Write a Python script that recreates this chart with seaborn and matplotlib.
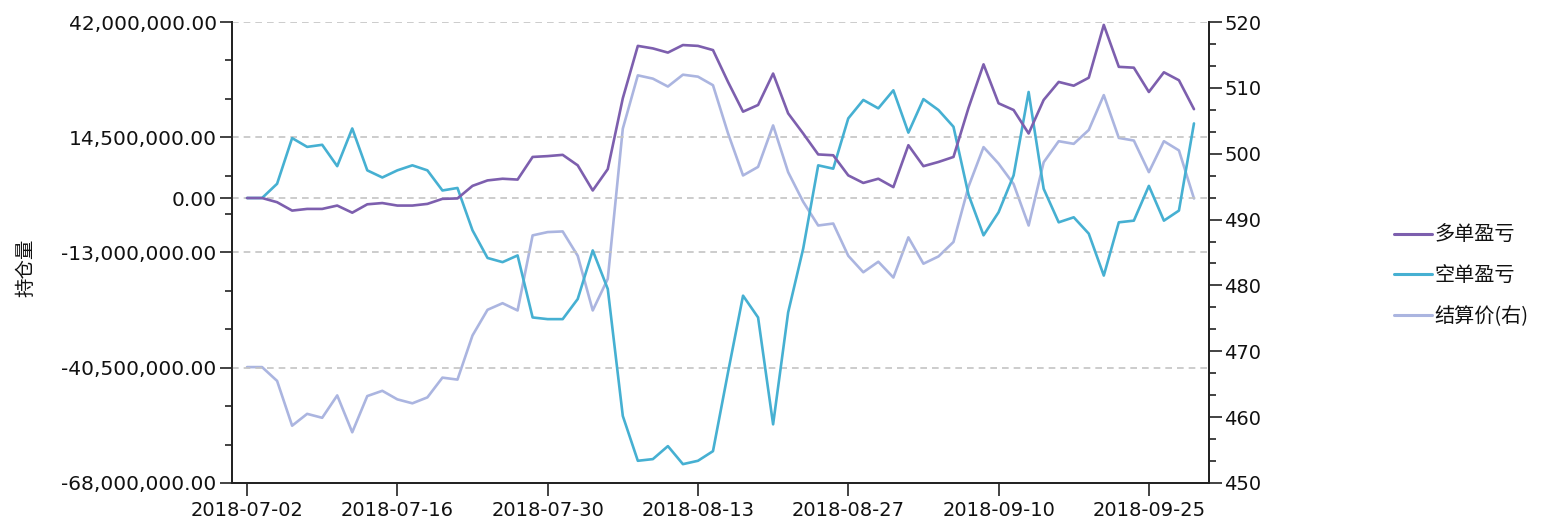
import matplotlib
matplotlib.use("Agg")
import matplotlib.pyplot as plt
import matplotlib.ticker as mticker
from matplotlib.lines import Line2D
import numpy as np
import pandas as pd
import seaborn as sns

# ---------------- data ----------------
dates = [
    "2018-07-02", "2018-07-03", "2018-07-04", "2018-07-05", "2018-07-06",
    "2018-07-09", "2018-07-10", "2018-07-11", "2018-07-12", "2018-07-13",
    "2018-07-16", "2018-07-17", "2018-07-18", "2018-07-19", "2018-07-20",
    "2018-07-23", "2018-07-24", "2018-07-25", "2018-07-26", "2018-07-27",
    "2018-07-30", "2018-07-31", "2018-08-01", "2018-08-02", "2018-08-03",
    "2018-08-06", "2018-08-07", "2018-08-08", "2018-08-09", "2018-08-10",
    "2018-08-13", "2018-08-14", "2018-08-15", "2018-08-16", "2018-08-17",
    "2018-08-20", "2018-08-21", "2018-08-22", "2018-08-23", "2018-08-24",
    "2018-08-27", "2018-08-28", "2018-08-29", "2018-08-30", "2018-08-31",
    "2018-09-03", "2018-09-04", "2018-09-05", "2018-09-06", "2018-09-07",
    "2018-09-10", "2018-09-11", "2018-09-12", "2018-09-13", "2018-09-14",
    "2018-09-17", "2018-09-18", "2018-09-19", "2018-09-20", "2018-09-21",
    "2018-09-25", "2018-09-26", "2018-09-27", "2018-09-28",
]

long_pnl_m = [  # 多单盈亏, millions
    0.0, 0.0, -1.0, -3.0, -2.6, -2.6, -1.8, -3.5, -1.5, -1.2,
    -1.8, -1.8, -1.4, -0.2, -0.1, 2.9, 4.2, 4.6, 4.4, 9.8,
    10.0, 10.3, 7.8, 1.8, 6.9, 23.8, 36.3, 35.7, 34.7, 36.5,
    36.3, 35.3, 27.7, 20.6, 22.2, 29.7, 20.2, 15.4, 10.4, 10.2,
    5.4, 3.6, 4.6, 2.6, 12.6, 7.6, 8.6, 9.8, 21.5, 31.9,
    22.6, 21.0, 15.4, 23.4, 27.7, 26.8, 28.7, 41.3, 31.3, 31.1,
    25.3, 30.0, 28.1, 21.2,
]

short_pnl_m = [  # 空单盈亏, millions
    0.0, 0.0, 3.4, 14.3, 12.2, 12.7, 7.6, 16.6, 6.6, 4.9,
    6.6, 7.8, 6.6, 1.8, 2.4, -7.7, -14.3, -15.3, -13.7, -28.5,
    -28.9, -28.9, -24.1, -12.5, -21.7, -52.0, -62.7, -62.3, -59.2, -63.5,
    -62.7, -60.4, -41.6, -23.3, -28.5, -54.0, -27.3, -12.1, 7.8, 7.0,
    19.0, 23.4, 21.4, 25.7, 15.6, 23.6, 21.0, 17.0, 0.8, -8.9,
    -3.4, 5.4, 25.3, 2.2, -5.8, -4.6, -8.5, -18.5, -5.8, -5.4,
    2.9, -5.4, -3.0, 17.8,
]

settle_price = [  # 结算价(右)
    467.6, 467.6, 465.5, 458.7, 460.5, 459.9, 463.3, 457.7, 463.2, 464.0,
    462.7, 462.1, 463.0, 466.0, 465.7, 472.4, 476.3, 477.3, 476.2, 487.6,
    488.1, 488.2, 484.5, 476.2, 481.0, 503.8, 511.9, 511.4, 510.2, 512.0,
    511.7, 510.4, 503.1, 496.7, 498.0, 504.3, 497.2, 492.7, 489.1, 489.4,
    484.5, 482.0, 483.6, 481.2, 487.3, 483.3, 484.4, 486.6, 495.0, 501.0,
    498.5, 495.4, 489.1, 498.7, 501.9, 501.5, 503.6, 508.9, 502.4, 502.0,
    497.2, 501.9, 500.5, 493.2,
]

series_names = ["多单盈亏", "空单盈亏", "结算价(右)"]
left_label = "持仓量"
left_major_ticks = [42000000, 14500000, 0, -13000000, -40500000, -68000000]
right_major_ticks = [450, 460, 470, 480, 490, 500, 510, 520]
xtick_every = 10

# ---------------- style ----------------
sns.set_theme(style="white")
plt.rcParams["font.family"] = ["DejaVu Sans", "Noto Sans CJK SC"]
plt.rcParams["axes.unicode_minus"] = False
plt.rcParams["text.color"] = "#111111"
plt.rcParams["xtick.color"] = "#222222"
plt.rcParams["ytick.color"] = "#222222"
plt.rcParams["xtick.labelcolor"] = "#111111"
plt.rcParams["ytick.labelcolor"] = "#111111"
plt.rcParams["axes.labelcolor"] = "#111111"

c_long = "#7d5fae"
c_short = "#46b0d2"
c_price = "#abb5e0"
lw = 1.9

df = pd.DataFrame({
    "idx": np.arange(len(dates)),
    "date": dates,
    "long": np.array(long_pnl_m) * 1e6,
    "short": np.array(short_pnl_m) * 1e6,
    "price": settle_price,
})

fig = plt.figure(figsize=(15.44, 5.32), dpi=100)
ax = fig.add_axes([232 / 1544, 1 - 483 / 532, (1209 - 232) / 1544, (483 - 22) / 532])
ax2 = ax.twinx()

sns.lineplot(data=df, x="idx", y="price", ax=ax2, color=c_price, linewidth=lw)
sns.lineplot(data=df, x="idx", y="short", ax=ax, color=c_short, linewidth=lw, zorder=3)
sns.lineplot(data=df, x="idx", y="long", ax=ax, color=c_long, linewidth=lw, zorder=4)

ax.set_zorder(ax2.get_zorder() + 1)
ax.patch.set_visible(False)

ax.set_xlim(-1, len(dates))
ax.set_ylim(-68000000, 42000000)
ax2.set_ylim(450, 520)

# ticks
ax.yaxis.set_major_locator(mticker.FixedLocator(left_major_ticks))
minor_left = [42000000 - k * 27500000 / 3 for k in range(13)]
ax.yaxis.set_minor_locator(mticker.FixedLocator(minor_left))
ax.yaxis.set_major_formatter(mticker.FuncFormatter(lambda v, p: f"{v:,.2f}"))
ax2.yaxis.set_major_locator(mticker.FixedLocator(right_major_ticks))
ax2.yaxis.set_minor_locator(mticker.MultipleLocator(10 / 3))
ax2.yaxis.set_major_formatter(mticker.FuncFormatter(lambda v, p: f"{v:.0f}"))

xt = list(range(0, len(dates), xtick_every))
ax.set_xticks(xt)
ax.set_xticklabels([dates[i] for i in xt])

tick_fs = 14
ax.tick_params(axis="x", which="major", direction="out", length=9, width=1.2,
               labelsize=tick_fs, pad=4, bottom=True)
ax.tick_params(axis="y", which="major", direction="out", length=9, width=1.2,
               labelsize=14.5, pad=2, left=True)
ax.tick_params(axis="y", which="minor", direction="out", length=5, width=1.2, left=True)
ax2.tick_params(axis="y", which="major", direction="out", length=9, width=1.2,
                labelsize=tick_fs, pad=2, right=True)
ax2.tick_params(axis="y", which="minor", direction="out", length=5, width=1.2, right=True)

ax.set_xlabel("")
ax2.set_ylabel("")
ax.set_ylabel(left_label, fontsize=14, family=["Noto Sans CJK SC", "DejaVu Sans"])
ax.yaxis.set_label_coords(-0.2, 0.466)

# grid: dashed at left major ticks
ax.grid(False)
ax2.grid(False)
for v in left_major_ticks:
    if v != -68000000:
        ax.axhline(v, color="#c4c4c4", linestyle=(0, (4, 3)), linewidth=1.2, zorder=0)

for a in (ax, ax2):
    a.spines["top"].set_visible(False)
    for s in ("left", "bottom", "right"):
        a.spines[s].set_color("#222222")
        a.spines[s].set_linewidth(1.3)

if ax.get_legend():
    ax.get_legend().remove()

handles = [Line2D([0], [0], color=c, linewidth=2.2) for c in (c_long, c_short, c_price)]
fig.legend(handles, series_names, loc="center left", bbox_to_anchor=(1376 / 1544, 1 - 276 / 532),
           frameon=False, handlelength=1.9, handletextpad=0.1, labelspacing=0.95,
           prop={"family": ["Noto Sans CJK SC", "DejaVu Sans"], "size": 14.5})

fig.savefig("out.png", dpi=100)
